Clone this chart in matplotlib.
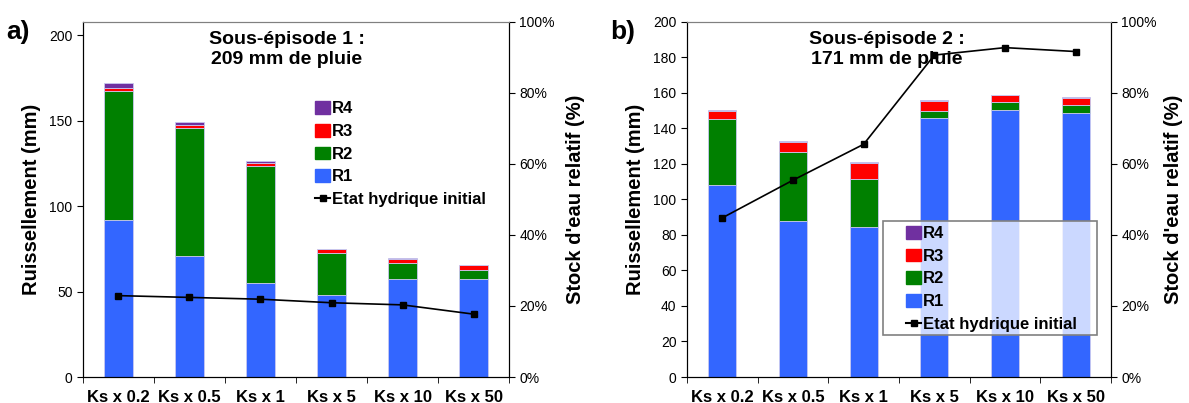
import matplotlib
matplotlib.use('Agg')
import matplotlib.pyplot as plt
from matplotlib.lines import Line2D
from matplotlib.patches import Patch, Rectangle
import numpy as np

plt.rcParams['font.family'] = ['Liberation Sans', 'DejaVu Sans']

categories = ['Ks x 0.2', 'Ks x 0.5', 'Ks x 1', 'Ks x 5', 'Ks x 10', 'Ks x 50']

# Sous-episode 1 (mm)
r1_a = [92.2, 70.9, 55.0, 47.8, 57.2, 57.6]
r2_a = [75.2, 75.0, 68.8, 24.7, 9.4, 5.3]
r3_a = [1.8, 1.4, 1.2, 2.3, 2.7, 2.7]
r4_a = [2.9, 2.1, 1.5, 0.2, 0.2, 0.1]
etat_a = [22.9, 22.4, 21.9, 20.9, 20.3, 17.7]

# Sous-episode 2 (mm)
r1_b = [108.2, 88.0, 84.7, 145.8, 150.3, 148.8]
r2_b = [37.0, 38.5, 26.9, 3.7, 4.5, 4.1]
r3_b = [4.7, 5.6, 9.0, 5.8, 3.7, 3.9]
r4_b = [0.6, 1.0, 0.7, 0.8, 0.4, 0.8]
etat_b = [44.8, 55.4, 65.5, 90.6, 92.7, 91.6]

colors = {'R1': '#3366FF', 'R2': '#008000', 'R3': '#FF0000', 'R4': '#7030A0'}


def draw_panel(ax, r1, r2, r3, r4, etat, ymax, yticks, title, title_x,
               letter, rpad):
    x = np.arange(len(categories))
    bottom = np.zeros(len(categories))
    for name, vals in [('R1', r1), ('R2', r2), ('R3', r3), ('R4', r4)]:
        ax.bar(x, vals, 0.4, bottom=bottom, color=colors[name],
               edgecolor='#c8c8f0', linewidth=0.6, zorder=2)
        bottom += np.array(vals)

    ax.set_xlim(-0.5, len(categories) - 0.5)
    ax.set_ylim(0, ymax)
    ax.set_yticks(yticks)
    ax.set_xticks(x)
    ax.set_xticklabels(categories, fontsize=12, fontweight='bold')
    ax.set_xticks(np.arange(-0.5, len(categories)), minor=True)
    ax.tick_params(axis='x', which='major', length=0, pad=9)
    ax.tick_params(axis='x', which='minor', length=4, direction='out')
    ax.tick_params(axis='y', labelsize=10, length=4, direction='out')
    ax.set_ylabel('Ruissellement (mm)', fontsize=14.5, fontweight='bold',
                  labelpad=6)
    ax.spines['top'].set_color('#808080')

    ax2 = ax.twinx()
    ax2.plot(x, etat, color='black', marker='s', markersize=4, linewidth=1.2,
             zorder=3)
    ax2.set_ylim(0, 100)
    ax2.set_yticks([0, 20, 40, 60, 80, 100])
    ax2.set_yticklabels(['0%', '20%', '40%', '60%', '80%', '100%'])
    ax2.tick_params(axis='y', labelsize=10, length=4, direction='out')
    ax2.set_ylabel("Stock d'eau relatif (%)", fontsize=14.5, fontweight='bold',
                   labelpad=rpad)
    ax2.spines['top'].set_color('#808080')

    ax2.text(title_x, 0.975, title, transform=ax2.transAxes, ha='center',
             va='top', fontsize=14, fontweight='bold', linespacing=1.25,
             zorder=1)
    ax.text(-0.18, 1.005, letter, transform=ax.transAxes, ha='left', va='top',
            fontsize=19, fontweight='bold')
    return ax2


fig = plt.figure(figsize=(11.89, 4.03), dpi=100)
ax_a = fig.add_axes([0.0698, 0.0645, 0.3583, 0.8817])
ax_b = fig.add_axes([0.5778, 0.0645, 0.3566, 0.8817])

handles = [Patch(color=colors['R4']), Patch(color=colors['R3']),
           Patch(color=colors['R2']), Patch(color=colors['R1']),
           Line2D([], [], color='black', marker='s', markersize=4)]
labels = ['R4', 'R3', 'R2', 'R1', 'Etat hydrique initial']
leg_kw = dict(frameon=False, prop={'size': 12, 'weight': 'bold'},
              handlelength=0.9, handleheight=0.8, handletextpad=0.1,
              labelspacing=0.45, borderaxespad=0, borderpad=0)

a2 = draw_panel(ax_a, r1_a, r2_a, r3_a, r4_a, etat_a, 208,
                [0, 50, 100, 150, 200], 'Sous-épisode 1 :\n209 mm de pluie',
                0.479, 'a)', 8)
a2.legend(handles, labels, loc='upper left', bbox_to_anchor=(0.545, 0.776),
          **leg_kw)

b2 = draw_panel(ax_b, r1_b, r2_b, r3_b, r4_b, etat_b, 200,
                list(range(0, 201, 20)), 'Sous-épisode 2 :\n171 mm de pluie',
                0.472, 'b)', 5)
b2.add_patch(Rectangle((0.462, 0.118), 0.505, 0.321, transform=b2.transAxes,
                       facecolor='white', alpha=0.75, edgecolor='none',
                       zorder=4))
b2.add_patch(Rectangle((0.462, 0.118), 0.505, 0.321, transform=b2.transAxes,
                       facecolor='none', edgecolor='#808080', linewidth=1.2,
                       zorder=4))
leg = b2.legend(handles, labels, loc='upper left',
                bbox_to_anchor=(0.517, 0.425), **leg_kw)
leg.set_zorder(5)

fig.savefig('out.png', dpi=100)
